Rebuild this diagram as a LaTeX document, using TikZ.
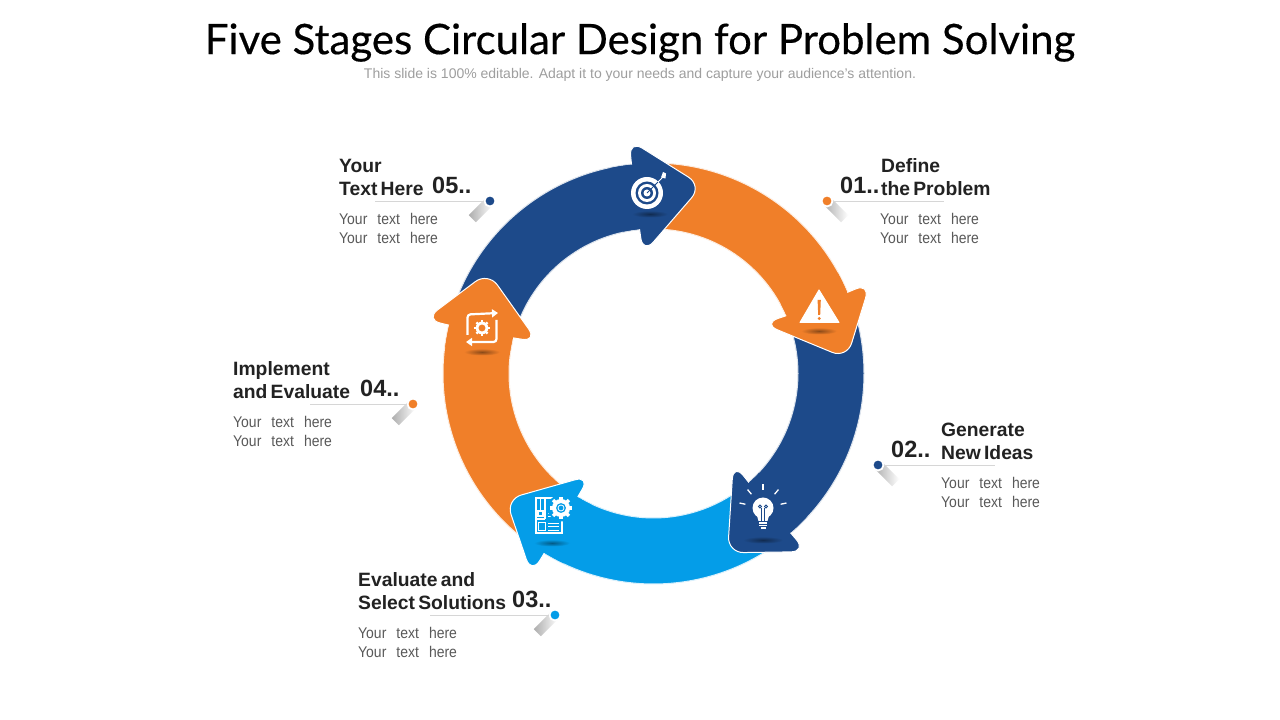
\documentclass[tikz,border=0pt]{standalone}
\usepackage{fontspec}
\setmainfont{Liberation Sans}[BoldFeatures={WordSpace=.6}]
\newfontfamily\titlefont{Lato}[FakeBold=.35]
\newfontfamily\bodyfont{Liberation Sans}[FakeStretch=.9,WordSpace=2.6]
\usetikzlibrary{arrows.meta}
\definecolor{stageorange}{HTML}{F07F29}
\definecolor{stagenavy}{HTML}{1D4A8A}
\definecolor{stagesky}{HTML}{049DE8}
\definecolor{headink}{HTML}{222222}
\definecolor{bodyink}{HTML}{595959}
\tikzset{
  headtext/.style={anchor=west,inner sep=0pt,align=left,text=headink,font=\fontsize{19.3}{23}\selectfont\bfseries},
  bodytext/.style={anchor=west,inner sep=0pt,align=left,text=bodyink,font=\bodyfont\fontsize{15.5}{19}\selectfont},
  numtext/.style={anchor=west,inner sep=0pt,text=headink,font=\fontsize{23.5}{24}\selectfont\bfseries},
  dotnode/.style={circle,inner sep=0pt,minimum size=11pt,draw=white,line width=1.8pt},
  leader/.style={draw=black!16,line width=.7pt},
  iconline/.style={draw=white,line width=1.2pt}
}
\newcommand{\cogwheel}[3]{%
  \foreach \a in {0,45,...,315}
    \fill[white,shift={(#1)},rotate=\a] (-.19*#2,0) rectangle (.19*#2,1.25*#2);
  \fill[white] (#1) circle (#2);
  \fill[#3] (#1) circle (.55*#2);
}
\newcommand{\iconshadow}[3]{%
  \shade[inner color=black!42!#3,outer color=#3] (#1) ellipse (#2 and 3.5);
}
\begin{document}
\begin{tikzpicture}[x=1pt,y=1pt]
  \useasboundingbox (0,0) rectangle (1280,720);
  \fill[white] (0,0) rectangle (1280,720);
  \node[inner sep=0pt,text=black,font=\titlefont\fontsize{42}{46}\selectfont] (title) at (640,677.5) {Five Stages Circular Design for Problem Solving};
  \node[inner sep=0pt,text=black!38,font=\fontsize{14}{16}\selectfont] (subtitle) at (640,645) {This slide is 100\% editable. Adapt it to your needs and capture your audience's attention.};
  % ring
  \begin{scope}[shift={(653.5,346.5)}]
    \foreach \ang/\col in {22.7/stageorange,-49.3/stagenavy,-121.3/stagesky,166.7/stageorange,96/stagenavy} {
      \pgfmathsetmacro{\tail}{\ang+66}
      \fill[\col,draw=\col!15,line width=1pt] (\ang:210.5) arc[start angle=\ang,end angle=\tail,radius=210.5]
        -- (\tail:144.5) arc[start angle=\tail,end angle=\ang,radius=144.5] -- cycle;
    }
    \foreach \ang/\off/\tip/\col in {22.7/1.8/4.45/stageorange,-49.3/1/-67.55/stagenavy,-121.3/-.5/-139.55/stagesky,166.7/-2/148.45/stageorange,96/-1/75.5/stagenavy} {
      \pgfmathsetmacro{\base}{\ang+\off}
      \pgfmathsetmacro{\joina}{\ang-2}
      \pgfmathsetmacro{\joinb}{\ang+6}
      \fill[\col,draw=white,line width=1pt,rounded corners=16pt] (\ang:178) -- (\ang:235) -- (\tip:194) -- (\base:120) -- cycle;
      % head runs into the band with no white line
      \fill[\col] (\joina:210) arc[start angle=\joina,end angle=\joinb,radius=210]
        -- (\joinb:145) arc[start angle=\joinb,end angle=\joina,radius=145] -- cycle;
    }
  \end{scope}
  % target
  \begin{scope}[shift={(647,527)}]
    \fill[white] (0,0) circle (16);
    \fill[stagenavy] (0,0) circle (11.5);
    \fill[white] (0,0) circle (9);
    \fill[stagenavy] (0,0) circle (6);
    \fill[white] (0,0) circle (3.5);
    \draw[stagenavy,line width=1pt] (0,0) -- (11,11);
    \draw[white,line width=1pt] (11,11) -- (15,15);
    \fill[white] (14,15.5) -- (16,21) -- (19,19.5) -- (18.5,14.5) -- cycle;
  \end{scope}
  \iconshadow{650,506}{18}{stagenavy}
  % warning sign
  \fill[white,draw=white,line join=round,line width=1pt] (819,430) -- (839,397.5) -- (800,397.5) -- cycle;
  \fill[stageorange] (817.6,420) -- (820.8,420) -- (820.2,405) -- (818.2,405) -- cycle;
  \fill[stageorange] (819.2,401.5) circle (1.6);
  \iconshadow{819,389}{18}{stageorange}
  % bulb
  \begin{scope}[shift={(763,212)}]
    \foreach \a in {12,50,90,130,168}
      \draw[white,line width=1.3pt] (\a:18) -- (\a:24);
    \fill[white] (0,0) circle (10.5);
    \fill[white] (-6.5,-6) -- (6.5,-6) -- (4.5,-13) -- (-4.5,-13) -- cycle;
    \draw[stagenavy,line width=.9pt] (-1.7,-13) -- (-1.7,0) (1.7,-13) -- (1.7,0);
    \draw[stagenavy,line width=.9pt] (-3,1.5) circle (1.4) (3,1.5) circle (1.4);
    \draw[white,line width=1.1pt] (-4,-15) -- (4,-15) (-4,-17.5) -- (4,-17.5) (-2.5,-20) -- (2.5,-20);
  \end{scope}
  \iconshadow{763,180}{20}{stagenavy}
  % plan and cog
  \begin{scope}[shift={(536,222)}]
    \draw[iconline] (0,0) rectangle (26,-35);
    \draw[iconline] (9,-21) -- (9,0);
    \draw[iconline] (4.5,1) -- (4.5,-13) (2,-13) -- (2,-18) -- (7,-18) -- (7,-13) -- cycle;
    \draw[iconline] (0,-21) -- (9,-21);
    \draw[iconline,line width=.9pt] (2.5,-24) rectangle (9,-32);
    \draw[iconline,line width=.9pt] (12,-25) -- (23,-25) (12,-28.5) -- (23,-28.5) (12,-32) -- (23,-32) (12,-15) -- (23,-15) (12,-18.5) -- (23,-18.5);
  \end{scope}
  \fill[stagesky] (561,212) circle (13.5);
  \cogwheel{561,212}{9}{stagesky}
  \draw[white,line width=.8pt] (561,212) circle (3);
  \iconshadow{552,177}{18}{stagesky}
  % cog with arrows
  \draw[iconline,line width=2.2pt,rounded corners=3pt,-{Triangle[length=6pt,width=8pt]}] (467.5,385) -- (467.5,405.5) -- (498,407);
  \draw[iconline,line width=2.2pt,rounded corners=3pt,-{Triangle[length=6pt,width=8pt]}] (496.5,400) -- (496.5,378) -- (466,378);
  \cogwheel{482,392}{6.3}{stageorange}
  \iconshadow{482,368}{18}{stageorange}
  % labels
  \foreach \nm/\col/\dx/\dy/\ex/\nx/\hx/\bx/\sang/\num/\head in {
    one/stageorange/827/519/944/840/881/880/-45/01/{Define\\the Problem},
    two/stagenavy/878/255/995/891/941/941/-45/02/{Generate\\New Ideas},
    three/stagesky/555/105/430/512/358/358/-135/03/{Evaluate and\\Select Solutions},
    four/stageorange/413/316/310/360/233/233/-135/04/{Implement\\and Evaluate},
    five/stagenavy/490/519/375/432/339/339/-135/05/{Your\\Text Here}} {
    \shade[shift={(\dx,\dy)},rotate=\sang,left color=black!32,right color=white] (0,-5) rectangle (25,5);
    \node[dotnode,fill=\col] (dot\nm) at (\dx,\dy) {};
    \coordinate (end\nm) at (\ex,\dy);
    \draw[leader] (dot\nm) -- (end\nm);
    \node[numtext] (num\nm) at (\nx,\dy+16) {\num..};
    \node[headtext] (head\nm) at (\hx,\dy+23.5) {\head};
    \node[bodytext] (body\nm) at (\bx,\dy-27.5) {Your text here\\Your text here};
  }
\end{tikzpicture}
\end{document}
